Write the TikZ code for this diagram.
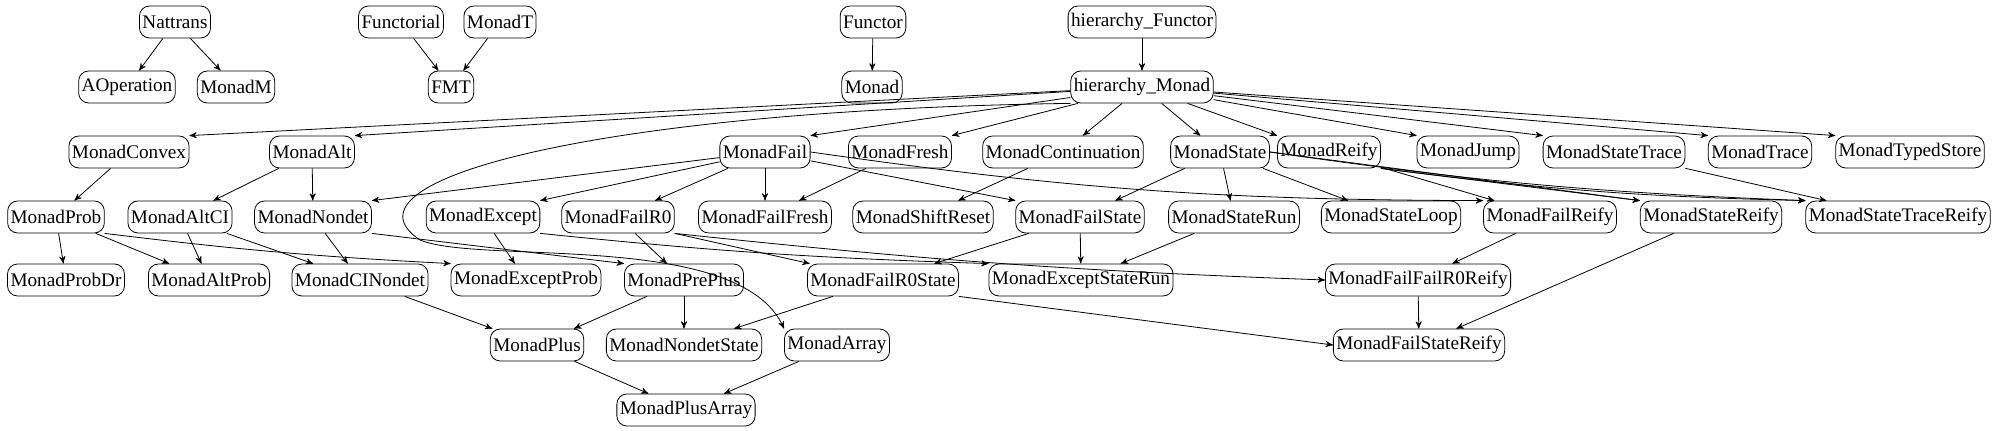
\documentclass[tikz,border=0pt]{standalone}
\usepackage{fontspec}
\setmainfont{Liberation Serif}
\usetikzlibrary{arrows}

\begin{document}
\begin{tikzpicture}[->,>=stealth',shorten >=0pt,x=0.5pt,y=-0.5pt,thin,
  mod node/.style={rectangle,rounded corners=5pt,draw,font=\fontsize{9.6}{11}\selectfont,inner xsep=1.5pt,minimum height=16pt,inner ysep=0pt}]
  \useasboundingbox (0,0) rectangle (2000,431);
  % top rows
  \node[mod node] (Nat) at (175,22) {Nattrans};
  \node[mod node] (AOp) at (127,87) {AOperation};
  \node[mod node] (MM) at (236,87) {MonadM};
  \node[mod node] (Ftl) at (401,22) {Functorial};
  \node[mod node] (MT) at (500,22) {MonadT};
  \node[mod node] (FMT) at (451,87) {FMT};
  \node[mod node] (Fun) at (873,22) {Functor};
  \node[mod node] (Mon) at (872,87) {Monad};
  \node[mod node] (hF) at (1142,22) {hierarchy\_Functor};
  \node[mod node] (hM) at (1142,87) {hierarchy\_Monad};
  % row 3
  \node[mod node] (Cvx) at (129,152) {MonadConvex};
  \node[mod node] (Alt) at (312,152) {MonadAlt};
  \node[mod node] (Fail) at (765,152) {MonadFail};
  \node[mod node] (Fresh) at (900,152) {MonadFresh};
  \node[mod node] (Cont) at (1063,152) {MonadContinuation};
  \node[mod node] (St) at (1220,152) {MonadState};
  \node[mod node] (Rfy) at (1329,152) {MonadReify};
  \node[mod node] (Jmp) at (1468,152) {MonadJump};
  \node[mod node] (StT) at (1614,152) {MonadStateTrace};
  \node[mod node] (Trc) at (1760,152) {MonadTrace};
  \node[mod node] (TS) at (1910,152) {MonadTypedStore};
  % row 4
  \node[mod node] (Prob) at (56,217) {MonadProb};
  \node[mod node] (ACI) at (180,217) {MonadAltCI};
  \node[mod node] (ND) at (313,217) {MonadNondet};
  \node[mod node] (Exc) at (483,217) {MonadExcept};
  \node[mod node] (FR0) at (618,217) {MonadFailR0};
  \node[mod node] (FFr) at (765,217) {MonadFailFresh};
  \node[mod node] (SR) at (923,217) {MonadShiftReset};
  \node[mod node] (FSt) at (1080,217) {MonadFailState};
  \node[mod node] (SRun) at (1234,217) {MonadStateRun};
  \node[mod node] (SL) at (1391,217) {MonadStateLoop};
  \node[mod node] (FRfy) at (1550,217) {MonadFailReify};
  \node[mod node] (SRfy) at (1711,217) {MonadStateReify};
  \node[mod node] (STRfy) at (1898,217) {MonadStateTraceReify};
  % row 5
  \node[mod node] (PDr) at (66,280) {MonadProbDr};
  \node[mod node] (AP) at (209,280) {MonadAltProb};
  \node[mod node] (CIN) at (360,280) {MonadCINondet};
  \node[mod node] (EP) at (526,280) {MonadExceptProb};
  \node[mod node] (PP) at (684,280) {MonadPrePlus};
  \node[mod node] (FR0St) at (883,280) {MonadFailR0State};
  \node[mod node] (ESR) at (1081,280) {MonadExceptStateRun};
  \node[mod node] (FFR0R) at (1418,280) {MonadFailFailR0Reify};
  % row 6
  \node[mod node] (Pl) at (537,345) {MonadPlus};
  \node[mod node] (NDS) at (684,345) {MonadNondetState};
  \node[mod node] (Arr) at (837,345) {MonadArray};
  \node[mod node] (FSR) at (1419,345) {MonadFailStateReify};
  % row 7
  \node[mod node] (PA) at (686,410) {MonadPlusArray};

  \path
    (Nat) edge (AOp)
    (Nat) edge (MM)
    (Ftl) edge (FMT)
    (MT) edge (FMT)
    (Fun) edge (Mon)
    (hF) edge (hM)
    (hM) edge (Cvx.north east)
    (hM) edge (Alt.north east)
    (hM) edge (Fail.north east)
    (hM) edge (Fresh.north east)
    (hM) edge (Cont)
    (hM) edge (St)
    (hM) edge (Rfy.north west)
    (hM) edge (Jmp.north west)
    (hM) edge (StT.north west)
    (hM) edge (Trc.north west)
    (hM) edge (TS.north west)
    (Cvx) edge (Prob)
    (Alt) edge (ACI)
    (Alt) edge (ND)
    (Fail) edge (ND.north east)
    (Fail) edge (Exc.north east)
    (Fail) edge (FR0)
    (Fail) edge (FFr)
    (Fail) edge (FSt.north west)
    (Fail.east) edge[bend right=4] (FRfy.north west)
    (Fresh) edge (FFr)
    (Cont) edge (SR)
    (St) edge (FSt)
    (St) edge (SRun)
    (St) edge (SL)
    (St.east) edge (SRfy.north west)
    (St.east) edge[bend right=3] (STRfy.north west)
    (Rfy) edge (FRfy)
    (Rfy.south east) edge (SRfy.north west)
    (Rfy.south east) edge[bend right=3] (STRfy.north west)
    (StT) edge (STRfy)
    (Prob) edge (PDr)
    (Prob) edge (AP)
    (Prob.south east) edge[bend right=2] (EP.north west)
    (ACI) edge (AP)
    (ACI) edge (CIN)
    (ND) edge (CIN)
    (ND.south east) edge (PP.north west)
    (Exc) edge (EP)
    (Exc.south east) edge[bend right=2] (ESR.north west)
    (FR0) edge (PP)
    (FR0.south east) edge (FR0St)
    (FR0.south east) edge[bend right=2] (FFR0R.west)
    (FSt) edge (FR0St)
    (FSt) edge (ESR)
    (SRun) edge (ESR)
    (FRfy) edge (FFR0R)
    (SRfy) edge (FSR)
    (FFR0R) edge (FSR)
    (CIN) edge (Pl)
    (PP) edge (Pl)
    (PP) edge (NDS)
    (FR0St) edge (NDS)
    (FR0St.south east) edge (FSR.west)
    (Pl) edge (PA)
    (Arr) edge (PA);
  % loop round to MonadArray
  \draw (hM.south west) .. controls (600,110) and (330,180) .. (420,240)
    .. controls (480,265) and (740,230) .. (Arr.north west);
\end{tikzpicture}
\end{document}
